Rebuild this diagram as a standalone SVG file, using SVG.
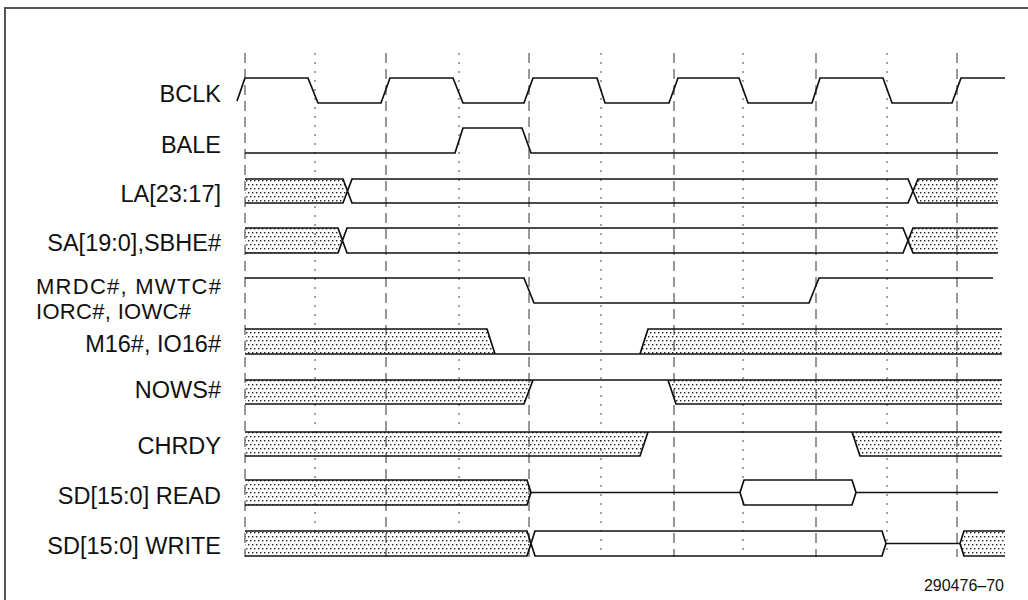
<svg xmlns="http://www.w3.org/2000/svg" width="1028" height="600" viewBox="0 0 1028 600">
<defs>
<pattern id="dots" width="4" height="8" patternUnits="userSpaceOnUse">
<rect x="0" y="0" width="1.4" height="1.4" fill="#222"/>
<rect x="2" y="4" width="1.4" height="1.4" fill="#222"/>
</pattern>
</defs>
<style>
.lbl{font-family:"Liberation Sans",Arial,Helvetica,sans-serif;font-size:23.5px;fill:#111;text-anchor:end}
.cap{font-family:"Liberation Sans",Arial,Helvetica,sans-serif;font-size:16px;fill:#111;text-anchor:end}
.sig{fill:none;stroke:#111;stroke-width:1.7;stroke-linejoin:miter}
.hatch{fill:url(#dots);stroke:none}
.open{fill:#fff;stroke:none}
.gd{stroke:#333;stroke-width:1;stroke-dasharray:10,6}
.gt{stroke:#444;stroke-width:1;stroke-dasharray:2,7}
.frame{fill:none;stroke:#555;stroke-width:2}
</style>
<rect width="1028" height="600" fill="#fff"/>
<path class="frame" d="M5,600 V8 H1028"/>

<g id="grid">
<line class="gd" x1="245" y1="53" x2="245" y2="557"/>
<line class="gt" x1="315" y1="53" x2="315" y2="557"/>
<line class="gd" x1="386" y1="53" x2="386" y2="557"/>
<line class="gt" x1="459" y1="53" x2="459" y2="557"/>
<line class="gd" x1="529" y1="53" x2="529" y2="557"/>
<line class="gt" x1="601" y1="53" x2="601" y2="557"/>
<line class="gd" x1="674" y1="53" x2="674" y2="557"/>
<line class="gt" x1="743" y1="53" x2="743" y2="557"/>
<line class="gd" x1="816" y1="53" x2="816" y2="557"/>
<line class="gt" x1="887" y1="53" x2="887" y2="557"/>
<line class="gd" x1="957" y1="53" x2="957" y2="557"/>
</g>

<g id="bclk">
<text class="lbl" x="221" y="102">BCLK</text>
<path class="sig" d="M237,101 L245,78 H308 L318,103 H381 L390,78 H453 L463,103 H524 L533,78 H597 L605,103 H669 L678,78 H739 L748,103 H812 L820,78 H883 L892,103 H952 L961,78 H1005"/>
</g>

<g id="bale">
<text class="lbl" x="221" y="153">BALE</text>
<path class="sig" d="M245,153 H455 L463,128 H522 L531,153 H998"/>
</g>

<g id="la">
<text class="lbl" x="221" y="202">LA[23:17]</text>
<polygon class="hatch" points="245,179 343,179 347.5,191 343,203 245,203"/>
<polygon class="hatch" points="913,191 918,179 998,179 998,203 918,203"/>
<path class="sig" d="M245,179 H343 L352,203 H908 L918,179 H998 M245,203 H343 L352,179 H908 L918,203 H998"/>
</g>

<g id="sa">
<text class="lbl" x="221" y="251">SA[19:0],SBHE#</text>
<polygon class="hatch" points="245,228 338,228 342.5,240.5 338,253 245,253"/>
<polygon class="hatch" points="908,240.5 913,228 998,228 998,253 913,253"/>
<path class="sig" d="M245,228 H338 L347,253 H903 L913,228 H998 M245,253 H338 L347,228 H903 L913,253 H998"/>
</g>

<g id="mrdc">
<text class="lbl" x="221" y="294" style="font-size:22px" textLength="185" lengthAdjust="spacing">MRDC#, MWTC#</text>
<text class="lbl" x="36" y="319" style="font-size:22px;text-anchor:start" textLength="155" lengthAdjust="spacing">IORC#, IOWC#</text>
<path class="sig" d="M245,278 H524 L534,303 H809 L819,278 H993"/>
</g>

<g id="m16">
<text class="lbl" x="221" y="352">M16#, IO16#</text>
<polygon class="hatch" points="245,329 487,329 495,354 245,354"/>
<polygon class="hatch" points="648,329 1002,329 1002,354 640,354"/>
<path class="sig" d="M245,329 H487 L495,354 M245,354 H1002 M640,354 L648,329 H1002"/>
</g>

<g id="nows">
<text class="lbl" x="221" y="398">NOWS#</text>
<polygon class="hatch" points="245,380 533,380 524,404 245,404"/>
<polygon class="hatch" points="668,380 1002,380 1002,404 676,404"/>
<path class="sig" d="M245,380 H1002 M245,404 H524 L533,380 M668,380 L676,404 H1002"/>
</g>

<g id="chrdy">
<text class="lbl" x="221" y="454">CHRDY</text>
<polygon class="hatch" points="245,432 648,432 640,456 245,456"/>
<polygon class="hatch" points="852,432 1002,432 1002,456 860,456"/>
<path class="sig" d="M245,432 H1002 M245,456 H640 L648,432 M852,432 L860,456 H1002"/>
</g>

<g id="sdread">
<text class="lbl" x="221" y="504">SD[15:0] READ</text>
<polygon class="hatch" points="245,480 527,480 531,492.5 527,505 245,505"/>
<polygon class="open" points="740,492.5 744,480 852,480 856,492.5 852,505 744,505"/>
<path class="sig" d="M245,480 H527 L531,492.5 L527,505 H245 M531,492.5 H740 M740,492.5 L744,480 H852 L856,492.5 L852,505 H744 Z M856,492.5 H998"/>
</g>

<g id="sdwrite">
<text class="lbl" x="221" y="554">SD[15:0] WRITE</text>
<polygon class="hatch" points="245,531 527,531 531,543.5 527,556 245,556"/>
<polygon class="hatch" points="960,543.5 964,531 1005,531 1005,556 964,556"/>
<path class="sig" d="M245,531 H527 L535,556 H882 L886,543.5 L882,531 H535 L527,556 H245 M886,543.5 H960 L964,531 H1005 M960,543.5 L964,556 H1005"/>
</g>

<text class="cap" x="1004" y="591">290476–70</text>
</svg>
